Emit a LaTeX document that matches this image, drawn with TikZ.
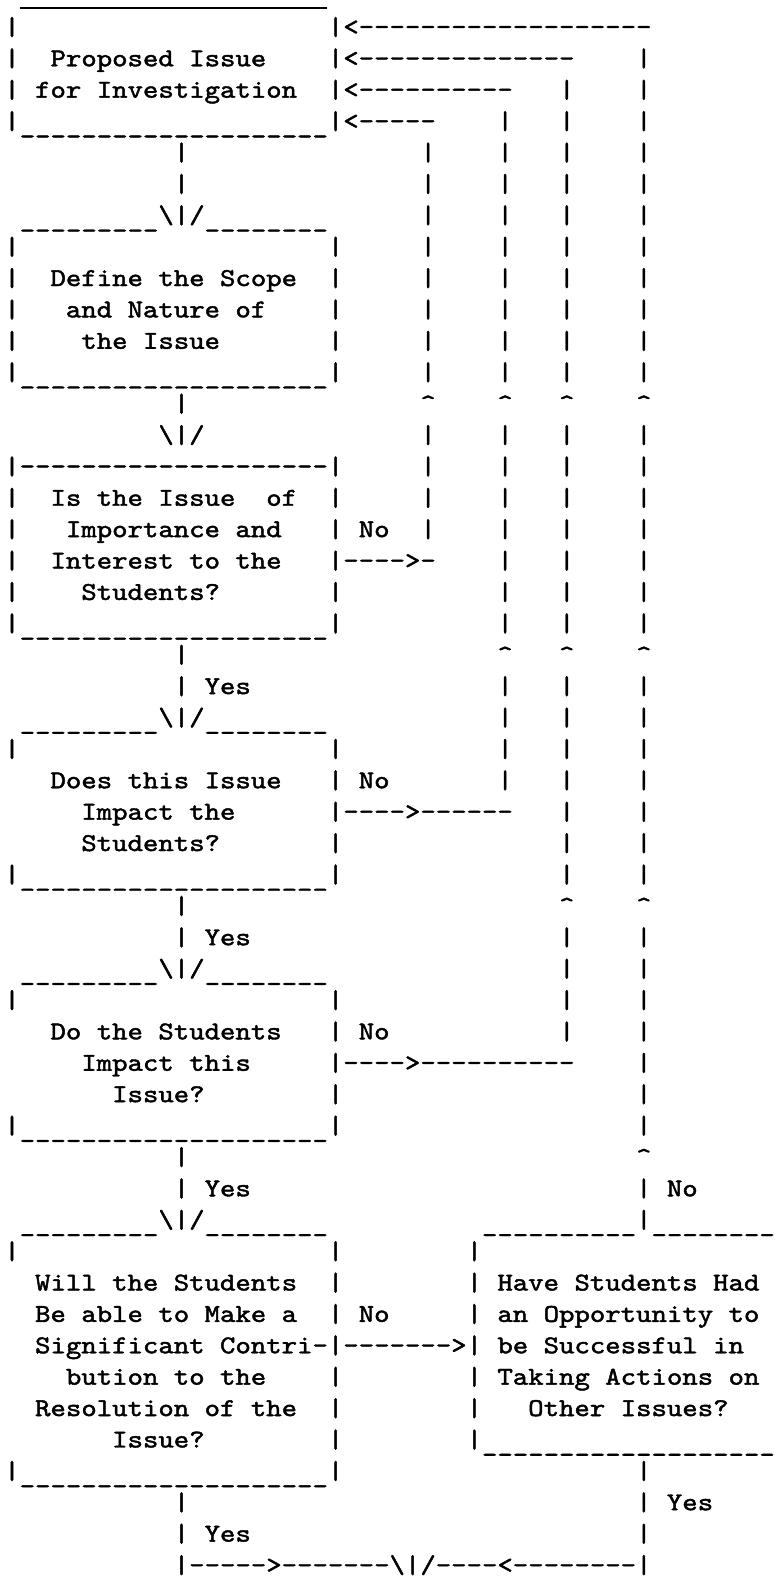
\documentclass[tikz,border=0pt]{standalone}
\usepackage{graphicx}
\newcount\repc
\newcommand\rep[2]{\repc=0\relax\loop\ifnum\repc<#1\relax#2{}\advance\repc by 1\relax\repeat}
\font\twfont="[lmmono10-regular]:embolden=1.6" at 12.85pt
\newcommand\tw{\twfont}
\newcommand\us{\raisebox{-2pt}{\_}}
\newlength\chw
\newcommand\dnarr{\textbackslash|/}
\newcommand\putat[4]{\node[txt] (#1) at ({4.3+15.41*(#2)},{3.5+31.39*(#3)}) {\scalebox{\xsc}[1]{\tw #4}};}
\tikzset{txt/.style={anchor=base west, inner sep=0pt, outer sep=0pt},
  rule/.style={line width=1pt}}
\begin{document}
\settowidth{\chw}{\tw M}%
\ifdim\chw<1pt \setlength{\chw}{6.75pt}\fi
\pgfmathsetmacro\xsc{7.705/\chw}%
\begin{tikzpicture}[x=0.5pt,y=-0.5pt]
\fill[white] (0,0) rectangle (775,1578);
\useasboundingbox (0,0) rectangle (775,1578);
% ---- box 1
\coordinate (top0a) at (20,8.5);
\coordinate (top0b) at (327,8.5);
\draw[rule] (top0a) -- (top0b);
\foreach \r in {1,2,3} {\putat{l\r}{0}{\r}{|}}
\putat{r1}{21}{1}{|<\rep{19}{-}}
\putat{r2}{21}{2}{|<\rep{14}{-}}
\putat{r3}{21}{3}{|<\rep{10}{-}}
\putat{t2}{3}{2}{Proposed Issue}
\putat{t3}{2}{3}{for Investigation}
\putat{r4}{0}{4}{|\rep{20}{\us}|<\rep{5}{-}}
% ---- main vertical
\foreach \r in {5,6,13,21,29,37,48} {\putat{m\r}{11}{\r}{|}}
\foreach \r in {7,23,31,39} {\putat{top\r}{1}{\r}{\rep{9}{\us}\dnarr\rep{8}{\us}}}
\putat{a14}{10}{14}{\dnarr}
% ---- box sides
\foreach \r in {8,...,11,16,17,18,19,24,...,27,32,...,35,40,...,46} {\putat{L\r}{0}{\r}{|}}
\foreach \r in {8,...,11,16,17,19,24,25,27,32,33,35,40,41,42,44,45,46} {\putat{R\r}{21}{\r}{|}}
\foreach \r in {12,20,28,36,47} {\putat{b\r}{0}{\r}{|\rep{20}{\us}|}}
\putat{r15}{0}{15}{|\rep{20}{-}|}
% ---- labels
\foreach \r in {22,30,38,49} {\putat{y\r}{11}{\r}{| Yes}}
\foreach \r in {17,25,33,42} {\putat{n\r}{23}{\r}{No}}
% ---- No arrows
\putat{a18}{21}{18}{|\rep{4}{-}>-}
\putat{a26}{21}{26}{|\rep{4}{-}>\rep{6}{-}}
\putat{a34}{21}{34}{|\rep{4}{-}>\rep{10}{-}}
\putat{a43}{21}{43}{|\rep{7}{-}>|}
% ---- box texts
\putat{t9}{3}{9}{Define the Scope}
\putat{t10}{4}{10}{and Nature of}
\putat{t11}{5}{11}{the Issue}
\putat{t16}{3}{16}{Is the Issue\ \ of}
\putat{t17}{4}{17}{Importance and}
\putat{t18}{3}{18}{Interest to the}
\putat{t19}{5}{19}{Students?}
\putat{t25}{3}{25}{Does this Issue}
\putat{t26}{5}{26}{Impact the}
\putat{t27}{5}{27}{Students?}
\putat{t33}{3}{33}{Do the Students}
\putat{t34}{5}{34}{Impact this}
\putat{t35}{7}{35}{Issue?}
\putat{t41}{2}{41}{Will the Students}
\putat{t42}{2}{42}{Be able to Make a}
\putat{t43}{2}{43}{Significant Contri-}
\putat{t44}{4}{44}{bution to the}
\putat{t45}{2}{45}{Resolution of the}
\putat{t46}{7}{46}{Issue?}
% ---- return lines
\foreach \c/\a/\b in {27/5/12, 27/14/17, 32/4/12, 32/14/20, 32/22/25, 36/3/12, 36/14/20, 36/22/28, 36/30/33, 41/2/12, 41/14/20, 41/22/28, 41/30/36, 41/47/47, 41/49/49}
  {\foreach \r in {\a,...,\b} {\putat{v\c-\r}{\c}{\r}{|}}}
\foreach \c/\r in {27/13, 32/13, 36/13, 41/13, 32/21, 36/21, 41/21, 36/29, 41/29, 41/37}
  {\putat{c\c-\r}{\c}{\r}{\textasciicircum}}
\putat{n38}{41}{38}{| No}
% ---- right box
\putat{rt39}{31}{39}{\rep{10}{\us}|\rep{8}{\us}}
\foreach \r in {40,41,42,44,45} {\putat{RL\r}{30}{\r}{|}}
\putat{u41}{32}{41}{Have Students Had}
\putat{u42}{32}{42}{an Opportunity to}
\putat{u43}{32}{43}{be Successful in}
\putat{u44}{32}{44}{Taking Actions on}
\putat{u45}{34}{45}{Other Issues?}
\putat{rb46}{30}{46}{|\rep{19}{\us}}
\putat{y48}{41}{48}{| Yes}
% ---- bottom join
\putat{r50}{11}{50}{|\rep{5}{-}>\rep{7}{-}\dnarr\rep{4}{-}<\rep{8}{-}|}
\end{tikzpicture}
\end{document}
